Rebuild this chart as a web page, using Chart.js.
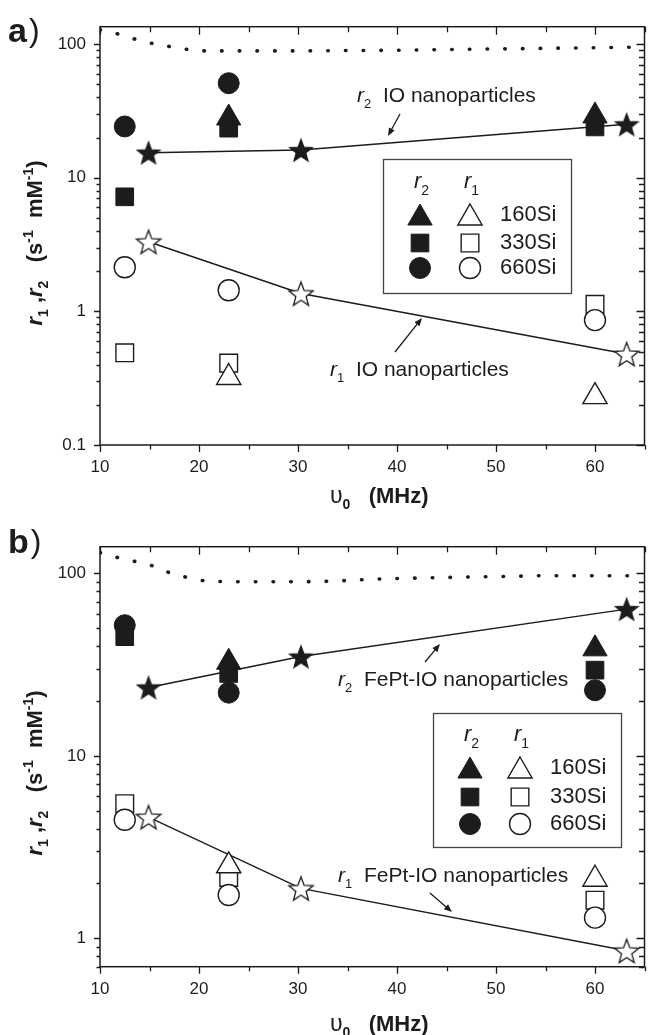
<!DOCTYPE html>
<html>
<head>
<meta charset="utf-8">
<script src="https://cdn.jsdelivr.net/npm/chart.js@4.4.0/dist/chart.umd.min.js"></script>
<style>
  html, body { margin: 0; padding: 0; background: #fff; overflow: hidden; }
  #wrap { position: relative; width: 649px; height: 1035px; overflow: hidden; background: #fff; }
  canvas { position: absolute; left: 0; }
</style>
</head>
<body>
<div id="wrap">
  <canvas id="chartA" width="660" height="517" style="top:0px"></canvas>
  <canvas id="chartB" width="660" height="518" style="top:517px"></canvas>
</div>
<script>
// ---- data ----
const freqs = [12.5, 23, 60];          // MHz, relaxometry points
const starFreqs = [14.9, 30.3, 63.2];  // MHz, core nanoparticles
const xTickLabels = [10, 20, 30, 40, 50, 60];
const yTickLabelsA = [0.1, 1, 10, 100];
const yTickLabelsB = [1, 10, 100];

// panel a) IO
const r2_160a = [null, 28, 29];
const r2_330a = [7.2, 23.5, 24];
const r2_660a = [24.2, 51, null];
const r1_160a = [null, 0.32, 0.23];
const r1_330a = [0.49, 0.41, 1.13];
const r1_660a = [2.14, 1.44, 0.86];
const r2_IO = [15.4, 16.1, 25.1];
const r1_IO = [3.32, 1.36, 0.48];
const limitFreqA = [10, 12, 14.3, 17, 19, 20.7, 25, 30, 35, 40, 45, 50, 55, 60, 64.5];
const limitA = [128, 118, 105, 96, 91, 89, 89, 89, 89.5, 90, 91, 92, 93, 94, 95];

// panel b) FePt-IO
const r2_160b = [null, 32.6, 38.6];
const r2_330b = [45, 28.3, 29.5];
const r2_660b = [52, 22.2, 22.9];
const r1_160b = [null, 2.5, 2.11];
const r1_330b = [5.47, 2.16, 1.62];
const r1_660b = [4.47, 1.73, 1.30];
const r2_FePt = [23.7, 35, 63.7];
const r1_FePt = [4.62, 1.88, 0.855];
const limitFreqB = [10, 11.8, 15.3, 17, 18.8, 20.7, 25, 30, 33, 38, 45, 50, 55, 60, 64.5];
const limitB = [130, 122, 110, 101, 95, 91, 90, 90, 90.5, 93, 95, 96, 97, 97, 97];

const INK = '#1c1c1c';
const FAM = '"Liberation Sans", Arial, sans-serif';
const F = (size, weight, italic) => (italic ? 'italic ' : '') + (weight || 'normal') + ' ' + size + 'px ' + FAM;

function pts(xs, ys) {
  return xs.map((x, i) => ({x: x, y: ys[i]})).filter(p => p.y != null);
}

function starImage(filled, size) {
  const c = document.createElement('canvas');
  c.width = c.height = size;
  const g = c.getContext('2d');
  const R = size / 2 - 1.2, r = R * 0.42;
  const cx = size / 2, cy = size / 2 + R * 0.1;
  g.beginPath();
  for (let i = 0; i < 10; i++) {
    const a = -Math.PI / 2 + i * Math.PI / 5;
    const rr = i % 2 ? r : R;
    g.lineTo(cx + rr * Math.cos(a), cy + rr * Math.sin(a));
  }
  g.closePath();
  g.fillStyle = filled ? INK : '#fff';
  g.fill();
  g.lineWidth = 1.3;
  g.strokeStyle = INK;
  g.stroke();
  return c;
}
const starFilled = starImage(true, 26);
const starOpen = starImage(false, 28);

const MARK = {
  tri:  {pointStyle: 'triangle', radius: 14},
  sq:   {pointStyle: 'rect', radius: 12.5},
  circ: {pointStyle: 'circle', radius: 10.5}
};

function markerSet(label, data, shape, filled, order) {
  return {
    label: label,
    data: data,
    showLine: false,
    pointStyle: MARK[shape].pointStyle,
    pointRadius: MARK[shape].radius,
    backgroundColor: filled ? INK : '#fff',
    borderColor: INK,
    borderWidth: filled ? 1 : 1.4,
    order: order
  };
}

function buildDatasets(d) {
  return [
    markerSet('660Si r2', pts(freqs, d.r2_660), 'circ', true, 1),
    markerSet('660Si r1', pts(freqs, d.r1_660), 'circ', false, 1),
    markerSet('160Si r2', pts(freqs, d.r2_160), 'tri', true, 2),
    markerSet('160Si r1', pts(freqs, d.r1_160), 'tri', false, 2),
    markerSet('330Si r2', pts(freqs, d.r2_330), 'sq', true, 3),
    markerSet('330Si r1', pts(freqs, d.r1_330), 'sq', false, 3),
    {label: 'r2 core', data: pts(starFreqs, d.r2_core), showLine: true, borderColor: INK, borderWidth: 1.5,
     pointStyle: starFilled, pointRadius: 13, order: 4},
    {label: 'r1 core', data: pts(starFreqs, d.r1_core), showLine: true, borderColor: INK, borderWidth: 1.5,
     pointStyle: starOpen, pointRadius: 14, order: 4},
    {label: 'limit', data: pts(d.limitFreq, d.limit), showLine: true, borderColor: INK, borderWidth: 3.6,
     borderDash: [0.5, 17.2], borderCapStyle: 'round', cubicInterpolationMode: 'monotone',
     pointRadius: 0, order: 5}
  ];
}

// ---- text helpers ----
function richWidth(ctx, parts) {
  let w = 0;
  parts.forEach(p => { ctx.font = p.f; w += ctx.measureText(p.t).width; });
  return w;
}
function drawRich(ctx, parts, x, y) {
  ctx.textBaseline = 'alphabetic';
  ctx.textAlign = 'left';
  parts.forEach(p => {
    ctx.font = p.f;
    ctx.fillText(p.t, x, y + (p.dy || 0));
    x += ctx.measureText(p.t).width;
  });
}
function rLabel(sub, size, rest) {
  const parts = [{t: 'r', f: F(size, 'normal', true)}, {t: sub, f: F(Math.round(size * 0.62)), dy: size * 0.3}];
  if (rest) parts.push({t: rest, f: F(size)});
  return parts;
}
function arrow(ctx, x1, y1, x2, y2) {
  const a = Math.atan2(y2 - y1, x2 - x1);
  ctx.beginPath();
  ctx.moveTo(x1, y1);
  ctx.lineTo(x2 - 4 * Math.cos(a), y2 - 4 * Math.sin(a));
  ctx.lineWidth = 1.3;
  ctx.stroke();
  ctx.beginPath();
  ctx.moveTo(x2, y2);
  ctx.lineTo(x2 - 8 * Math.cos(a) + 3.2 * Math.sin(a), y2 - 8 * Math.sin(a) - 3.2 * Math.cos(a));
  ctx.lineTo(x2 - 8 * Math.cos(a) - 3.2 * Math.sin(a), y2 - 8 * Math.sin(a) + 3.2 * Math.cos(a));
  ctx.closePath();
  ctx.fill();
}
function legendMark(ctx, shape, filled, x, y) {
  ctx.fillStyle = filled ? INK : '#fff';
  ctx.strokeStyle = INK;
  const opts = {pointStyle: MARK[shape].pointStyle, radius: MARK[shape].radius, borderWidth: filled ? 1 : 1.4, rotation: 0};
  if (Chart.helpers && Chart.helpers.drawPoint) {
    ctx.lineWidth = opts.borderWidth;
    Chart.helpers.drawPoint(ctx, opts, x, y);
  }
}

// frame, ticks, titles, legend and notes
const panelPlugin = {
  id: 'panel',
  afterDraw(chart, args, o) {
    const {ctx, chartArea: a, scales: {x, y}} = chart;
    const t = o.top;
    ctx.save();
    ctx.strokeStyle = INK;
    ctx.fillStyle = INK;

    // box + ticks
    ctx.lineWidth = 1.5;
    ctx.strokeRect(a.left, a.top, a.right - a.left, a.bottom - a.top);
    ctx.lineWidth = 1.3;
    ctx.beginPath();
    for (let v = x.min; v <= x.max + 1e-9; v += 5) {
      const px = Math.round(x.getPixelForValue(v)) + 0.5;
      const len = v % 10 === 0 ? 7 : 4.5;
      ctx.moveTo(px, a.bottom); ctx.lineTo(px, a.bottom + len);
      ctx.moveTo(px, a.top); ctx.lineTo(px, a.top + len + 1);
    }
    const k0 = Math.floor(Math.log10(y.min)), k1 = Math.ceil(Math.log10(y.max));
    for (let k = k0; k <= k1; k++) {
      for (let m = 1; m <= 9; m++) {
        const v = m * Math.pow(10, k);
        if (v < y.min * 0.9999 || v > y.max * 1.0001) continue;
        const py = Math.round(y.getPixelForValue(v)) + 0.5;
        const len = m === 1 ? 6 : 3.5;
        ctx.moveTo(a.left, py); ctx.lineTo(a.left - len, py);
        ctx.moveTo(a.right, py); ctx.lineTo(a.right - len - 2, py);
      }
    }
    ctx.stroke();

    // panel letter
    ctx.font = F(34, 'bold');
    ctx.fillText(o.letter, o.letterPos[0], o.letterPos[1] - t);
    const lw = ctx.measureText(o.letter).width;
    ctx.font = F(32);
    ctx.fillText(')', o.letterPos[0] + lw + 2, o.letterPos[1] - t - 1);

    // axis titles
    const xt = [{t: 'υ', f: F(23)}, {t: '0', f: F(14, 'bold'), dy: 6}, {t: '   (MHz)', f: F(22, 'bold')}];
    drawRich(ctx, xt, o.xTitle[0], o.xTitle[1] - t);
    const yt = [
      {t: 'r', f: F(22, 'bold', true)}, {t: '1', f: F(14, 'bold'), dy: 6},
      {t: ' ,', f: F(22, 'bold')},
      {t: 'r', f: F(22, 'bold', true)}, {t: '2', f: F(14, 'bold'), dy: 6},
      {t: '   (s', f: F(22, 'bold')}, {t: '-1', f: F(14, 'bold'), dy: -9},
      {t: '  mM', f: F(22, 'bold')}, {t: '-1', f: F(14, 'bold'), dy: -9},
      {t: ')', f: F(22, 'bold')}
    ];
    ctx.save();
    ctx.translate(o.yTitle[0], o.yTitle[1] - t);
    ctx.rotate(-Math.PI / 2);
    drawRich(ctx, yt, -richWidth(ctx, yt) / 2, 7);
    ctx.restore();

    // notes with arrows
    o.notes.forEach(n => {
      drawRich(ctx, rLabel(n.sub, 21, n.text), n.x, n.y - t);
      arrow(ctx, n.arrow[0], n.arrow[1] - t, n.arrow[2], n.arrow[3] - t);
    });

    // legend
    const L = o.legend;
    ctx.lineWidth = 1.3;
    ctx.strokeStyle = '#444';
    ctx.strokeRect(L.box[0] + 0.5, L.box[1] - t + 0.5, L.box[2] - L.box[0], L.box[3] - L.box[1]);
    ctx.fillStyle = INK;
    drawRich(ctx, rLabel('2', 22), L.cols[0] - 6, L.head - t);
    drawRich(ctx, rLabel('1', 22), L.cols[1] - 6, L.head - t);
    const rows = [['tri', '160Si'], ['sq', '330Si'], ['circ', '660Si']];
    rows.forEach((r, i) => {
      const yy = L.rows[i] - t;
      legendMark(ctx, r[0], true, L.cols[0], yy + (r[0] === 'tri' ? 3 : 0));
      legendMark(ctx, r[0], false, L.cols[1], yy + (r[0] === 'tri' ? 3 : 0));
      ctx.fillStyle = INK;
      ctx.font = F(22);
      ctx.textBaseline = 'middle';
      ctx.fillText(r[1], L.textX, yy);
    });
    ctx.restore();
  }
};

function makeChart(id, d, yMin, yMax, yLabels, pad, xHeight, panel) {
  return new Chart(document.getElementById(id), {
    type: 'scatter',
    data: {datasets: buildDatasets(d)},
    options: {
      responsive: false,
      animation: false,
      layout: {padding: {top: pad, right: 10, left: 0, bottom: 0}},
      plugins: {legend: {display: false}, tooltip: {enabled: false}, panel: panel},
      scales: {
        x: {
          type: 'linear', min: 10, max: 65,
          grid: {display: false, drawTicks: false},
          border: {display: false},
          afterFit: s => { s.height = xHeight; },
          ticks: {
            stepSize: 5, autoSkip: false, maxRotation: 0, padding: 12,
            color: INK, font: {family: FAM, size: 17},
            callback: v => xTickLabels.includes(v) ? String(v) : ''
          }
        },
        y: {
          type: 'logarithmic', min: yMin, max: yMax,
          grid: {display: false, drawTicks: false},
          border: {display: false},
          afterFit: s => { s.width = 100; },
          ticks: {
            autoSkip: false, padding: 14,
            color: INK, font: {family: FAM, size: 17},
            callback: v => {
              const hit = yLabels.find(l => Math.abs(v / l - 1) < 1e-6);
              return hit !== undefined ? String(hit) : '';
            }
          }
        }
      }
    },
    plugins: [panelPlugin]
  });
}

makeChart('chartA', {
  r2_160: r2_160a, r2_330: r2_330a, r2_660: r2_660a,
  r1_160: r1_160a, r1_330: r1_330a, r1_660: r1_660a,
  r2_core: r2_IO, r1_core: r1_IO, limitFreq: limitFreqA, limit: limitA
}, 0.1, 135, yTickLabelsA, 26.7, 72, {
  top: 0,
  letter: 'a', letterPos: [8, 42],
  xTitle: [330, 503],
  yTitle: [35, 243],
  notes: [
    {sub: '2', text: '  IO nanoparticles', x: 357, y: 102, arrow: [400, 114, 388, 136]},
    {sub: '1', text: '  IO nanoparticles', x: 330, y: 376, arrow: [395, 352, 422, 318]}
  ],
  legend: {box: [383, 159, 571, 293], head: 188, rows: [215, 243, 268], cols: [420, 470], textX: 500}
});

makeChart('chartB', {
  r2_160: r2_160b, r2_330: r2_330b, r2_660: r2_660b,
  r1_160: r1_160b, r1_330: r1_330b, r1_660: r1_660b,
  r2_core: r2_FePt, r1_core: r1_FePt, limitFreq: limitFreqB, limit: limitB
}, 0.7, 140, yTickLabelsB, 29.7, 68.3, {
  top: 517,
  letter: 'b', letterPos: [8, 553],
  xTitle: [330, 1031],
  yTitle: [35, 773],
  notes: [
    {sub: '2', text: '  FePt-IO nanoparticles', x: 338, y: 686, arrow: [425, 662, 440, 644]},
    {sub: '1', text: '  FePt-IO nanoparticles', x: 338, y: 882, arrow: [430, 893, 452, 912]}
  ],
  legend: {box: [433, 713, 621, 847], head: 741, rows: [768, 797, 824], cols: [470, 520], textX: 550}
});
</script>
</body>
</html>
